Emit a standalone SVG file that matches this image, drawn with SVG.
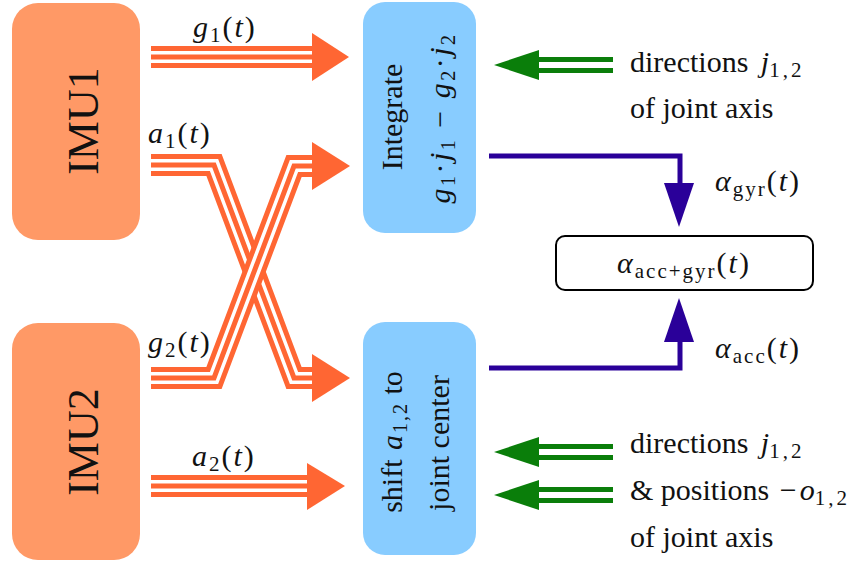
<svg xmlns="http://www.w3.org/2000/svg" width="864" height="565" viewBox="0 0 864 565" font-family="Liberation Serif, serif">
<defs>
<polygon id="gh" points="45,-15 0,0 45,15" fill="#0A7E0A"/>
</defs>
<g id="imu1">
<rect x="12" y="3" width="128" height="237" rx="26" fill="#FF9966"/>
<text font-family="Liberation Serif, serif" font-size="44" fill="#111" text-anchor="middle" transform="translate(98,121) rotate(-90)">IMU1</text>
</g>
<g id="imu2">
<rect x="12" y="323" width="128" height="237" rx="26" fill="#FF9966"/>
<text font-family="Liberation Serif, serif" font-size="44" fill="#111" text-anchor="middle" transform="translate(98,442) rotate(-90)">IMU2</text>
</g>
<g id="integrate">
<rect x="363" y="2" width="113" height="231" rx="22" fill="#88CCFF"/>
<text font-family="Liberation Serif, serif" font-size="30" fill="#111" text-anchor="middle" transform="translate(402,117) rotate(-90)">Integrate</text>
<text font-family="Liberation Serif, serif" font-size="30" fill="#111" text-anchor="middle" letter-spacing="2.5" transform="translate(450,118) rotate(-90)"><tspan font-style="italic">g</tspan><tspan font-size="20" dy="5">1</tspan><tspan dy="-5">·</tspan><tspan font-style="italic">j</tspan><tspan font-size="20" dy="5">1</tspan><tspan dy="-5"> − </tspan><tspan font-style="italic">g</tspan><tspan font-size="20" dy="5">2</tspan><tspan dy="-5">·</tspan><tspan font-style="italic">j</tspan><tspan font-size="20" dy="5">2</tspan></text>
</g>
<g id="shift">
<rect x="363" y="322" width="113" height="233" rx="22" fill="#88CCFF"/>
<text font-family="Liberation Serif, serif" font-size="30" fill="#111" text-anchor="middle" transform="translate(402,442) rotate(-90)">shift <tspan font-style="italic" dx="2" letter-spacing="2">a</tspan><tspan font-size="20" dy="5" letter-spacing="2">1,2</tspan><tspan dy="-5"> to</tspan></text>
<text font-family="Liberation Serif, serif" font-size="30" fill="#111" text-anchor="middle" transform="translate(449,443) rotate(-90)">joint center</text>
</g>
<g id="combined">
<rect x="556" y="236" width="257" height="54" rx="9" fill="#fff" stroke="#000" stroke-width="2"/>
<text font-family="Liberation Serif, serif" font-size="30" fill="#111" text-anchor="middle" letter-spacing="2" x="684" y="273"><tspan font-style="italic">α</tspan><tspan font-size="21" dy="5">acc+gyr</tspan><tspan dy="-5">(</tspan><tspan font-style="italic">t</tspan>)</text>
</g>
<g id="connectors" fill="none">
<g stroke="#FF6633" stroke-width="22">
<path d="M151,57 H312"/><path d="M151,165 H214 L294,378 H312"/>
</g>
<g stroke="#fff" stroke-width="12">
<path d="M151,57 H312"/><path d="M151,165 H214 L294,378 H312"/>
</g>
<g stroke="#FF6633" stroke-width="5">
<path d="M151,57 H312"/><path d="M151,165 H214 L294,378 H312"/>
</g>
<path d="M151,378 H214 L294,166 H312" stroke="#FF6633" stroke-width="22"/>
<path d="M151,378 H214 L294,166 H312" stroke="#fff" stroke-width="12"/>
<path d="M151,378 H214 L294,166 H312" stroke="#FF6633" stroke-width="5"/>
<path d="M151,486 H307" stroke="#FF6633" stroke-width="22"/>
<path d="M151,486 H307" stroke="#fff" stroke-width="12"/>
<path d="M151,486 H307" stroke="#FF6633" stroke-width="5"/>
<g fill="#FF6633">
<polygon points="312,33 349,57 312,81"/>
<polygon points="312,354 350,378 312,402"/>
<polygon points="312,142 350,166 312,190"/>
<polygon points="307,463 345,486 307,510"/>
</g>
<g stroke="#0A7E0A" stroke-width="16">
<path d="M537,65 H613"/><path d="M537,452 H613"/><path d="M537,495 H613"/>
</g>
<g stroke="#fff" stroke-width="6">
<path d="M537,65 H613"/><path d="M537,452 H613"/><path d="M537,495 H613"/>
</g>
<use href="#gh" x="494" y="65"/>
<use href="#gh" x="494" y="452"/>
<use href="#gh" x="494" y="495"/>
<g stroke="#2A0099" stroke-width="5">
<path d="M489,156 H680 V185"/>
<path d="M489,368 H680 V340"/>
</g>
<g fill="#2A0099">
<polygon points="664,183 694,183 679,227"/>
<polygon points="664,342 694,342 679,298"/>
</g>
</g>
<g id="labels" font-family="Liberation Serif, serif" fill="#111">
<text font-size="30" letter-spacing="2" x="193" y="37"><tspan font-style="italic">g</tspan><tspan font-size="21" dy="5">1</tspan><tspan dy="-5">(</tspan><tspan font-style="italic">t</tspan>)</text>
<text font-size="30" letter-spacing="2" x="148" y="143"><tspan font-style="italic">a</tspan><tspan font-size="21" dy="5">1</tspan><tspan dy="-5">(</tspan><tspan font-style="italic">t</tspan>)</text>
<text font-size="30" letter-spacing="2" x="148" y="352"><tspan font-style="italic">g</tspan><tspan font-size="21" dy="5">2</tspan><tspan dy="-5">(</tspan><tspan font-style="italic">t</tspan>)</text>
<text font-size="30" letter-spacing="2" x="192" y="466"><tspan font-style="italic">a</tspan><tspan font-size="21" dy="5">2</tspan><tspan dy="-5">(</tspan><tspan font-style="italic">t</tspan>)</text>
<text font-size="30" letter-spacing="2" x="715" y="191"><tspan font-style="italic">α</tspan><tspan font-size="21" dy="5">gyr</tspan><tspan dy="-5">(</tspan><tspan font-style="italic">t</tspan>)</text>
<text font-size="30" letter-spacing="2" x="715" y="358"><tspan font-style="italic">α</tspan><tspan font-size="21" dy="5">acc</tspan><tspan dy="-5">(</tspan><tspan font-style="italic">t</tspan>)</text>
<text font-size="30" x="630" y="72">directions <tspan font-style="italic" dx="5">j</tspan><tspan font-size="21" dy="5" letter-spacing="3">1,2</tspan></text>
<text font-size="30" x="630" y="118">of joint axis</text>
<text font-size="30" x="630" y="453">directions <tspan font-style="italic" dx="5">j</tspan><tspan font-size="21" dy="5" letter-spacing="3">1,2</tspan></text>
<text font-size="30" x="630" y="500">&amp; positions <tspan dx="3">−</tspan><tspan font-style="italic" dx="3">o</tspan><tspan font-size="21" dy="5" letter-spacing="3">1,2</tspan></text>
<text font-size="30" x="630" y="547">of joint axis</text>
</g>
</svg>
